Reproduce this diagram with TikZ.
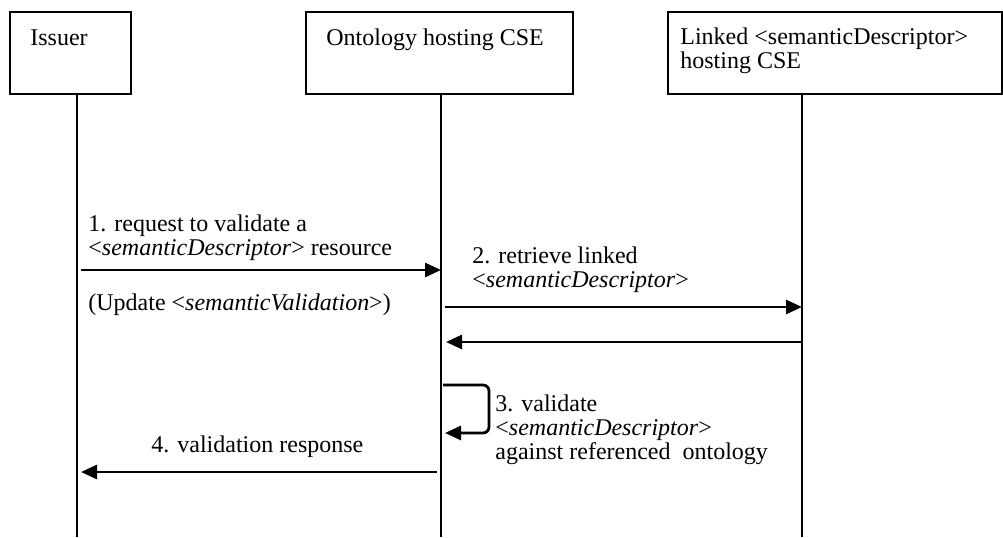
\documentclass[tikz,border=0pt]{standalone}
\usepackage{fontspec}
\setmainfont{Liberation Serif}
\usetikzlibrary{arrows.meta,calc}
\tikzset{msg/.style={line width=1.4pt,-{Triangle[length=8pt,width=7pt]}}}
\tikzset{life/.style={line width=0.8pt}}

\begin{document}
\begin{tikzpicture}
[x=0.5pt, y=-0.5pt, font=\fontsize{12}{12}\selectfont,
 actor/.style={draw, line width=0.8pt, anchor=north west, inner sep=0pt},
 txt/.style={anchor=base west, inner sep=0pt, align=left}]
\useasboundingbox (0,0) rectangle (1003,537);

% actors
\node (issuer) at (9,11)[actor, minimum width=60.5pt, minimum height=41pt]{};
\node (issuertext) at (30,45)[txt]{Issuer};
\node (host) at (305,11)[actor, minimum width=133.5pt, minimum height=41pt]{};
\node (hosttext) at (326,45)[txt]{Ontology hosting CSE};
\node (linked) at (667,11)[actor, minimum width=167pt, minimum height=41pt]{};
\node (linkedtext) at (680,68)[txt]{Linked <semanticDescriptor>\\hosting CSE};

% lifelines
\coordinate (issuerend) at (77,537);
\coordinate (hostend) at (441,537);
\coordinate (linkedend) at (802,537);
\draw[life] (issuer.south -| issuerend) -- (issuerend);
\draw[life] (host.south -| hostend) -- (hostend);
\draw[life] (linked.south -| linkedend) -- (linkedend);

% messages
\node (m1) at (88,255)[txt]{1. request to validate a\\<\textit{semanticDescriptor}> resource};
\draw[msg, shorten <=2pt] (issuerend |- 0,270) -- (hostend |- 0,270);
\node (m1b) at (88,310)[txt]{(Update <\textit{semanticValidation}>)};

\node (m2) at (472,287)[txt]{2. retrieve linked\\<\textit{semanticDescriptor}>};
\draw[msg, shorten <=2pt] (hostend |- 0,307) -- (linkedend |- 0,307);
\draw[msg, shorten >=2.5pt] (linkedend |- 0,342) -- (hostend |- 0,342);

\draw[msg, rounded corners=3pt, shorten <=1pt, shorten >=2pt]
  (hostend |- 0,385) -- (489,385) -- (489,433) -- (hostend |- 0,433);
\node (m3) at (495,459)[txt]{3. validate\\<\textit{semanticDescriptor}>\\against referenced\ \ ontology};

\node (m4) at (151,452)[txt]{4. validation response};
\draw[msg, shorten <=2pt, shorten >=2pt] (hostend |- 0,472) -- (issuerend |- 0,472);
\end{tikzpicture}
\end{document}
